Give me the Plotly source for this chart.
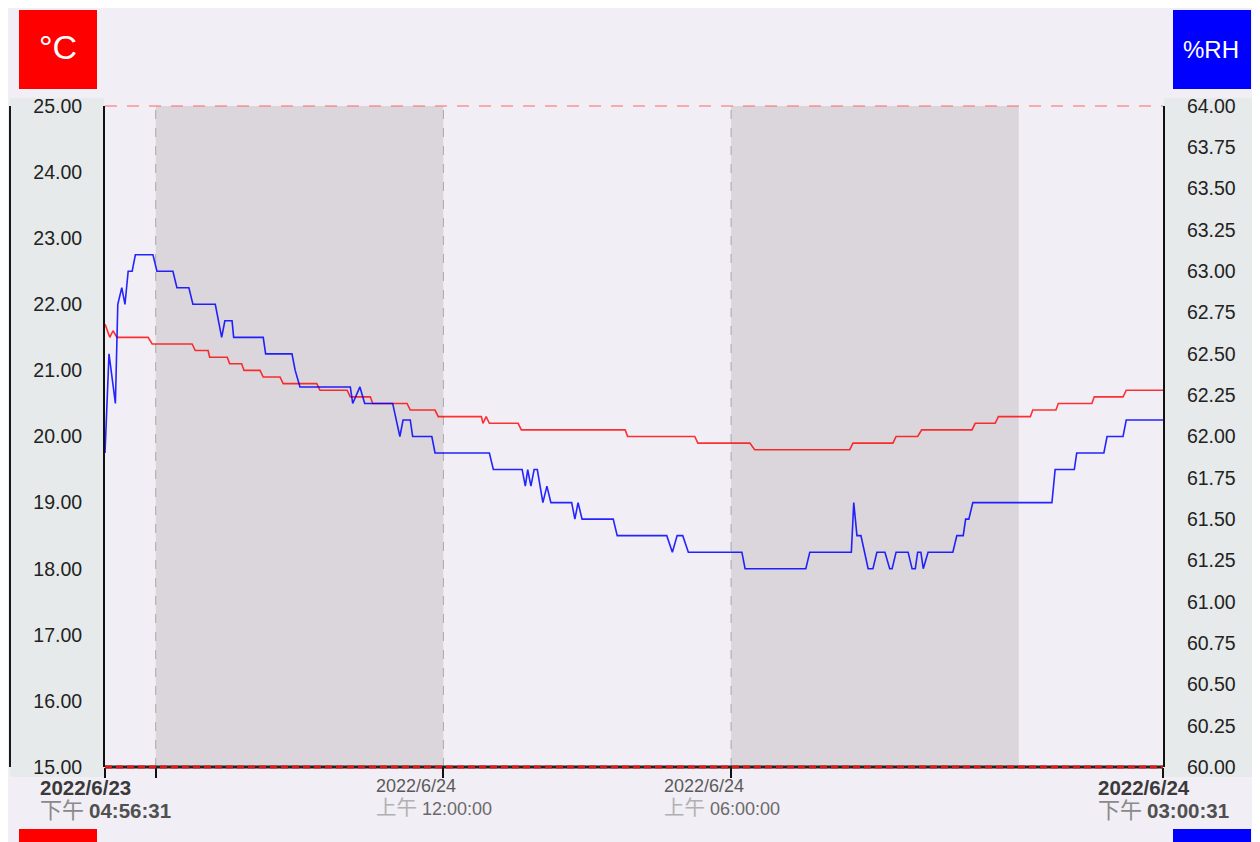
import pandas as pd
import plotly.graph_objects as go

# ---------------- data ----------------
start_time = "2022-06-23 16:56:31"
end_time = "2022-06-24 15:00:31"

# elapsed minutes since start, temperature (°C)
temp_minutes = [0, 6, 10, 15, 54, 59, 109, 113, 129, 131, 153, 156, 171, 174, 194, 198,
                219, 223, 265, 269, 303, 307, 332, 335, 378, 382, 413, 417, 471, 473,
                477, 481, 517, 521, 651, 654, 738, 742, 807, 813, 932, 936, 986, 990,
                1017, 1022, 1085, 1089, 1114, 1118, 1158, 1161, 1190, 1193, 1235, 1238,
                1274, 1278, 1324]
temp_values = [21.7, 21.5, 21.6, 21.5, 21.5, 21.4, 21.4, 21.3, 21.3, 21.2, 21.2, 21.1,
               21.1, 21.0, 21.0, 20.9, 20.9, 20.8, 20.8, 20.7, 20.7, 20.6, 20.6, 20.5,
               20.5, 20.4, 20.4, 20.3, 20.3, 20.2, 20.3, 20.2, 20.2, 20.1, 20.1, 20.0,
               20.0, 19.9, 19.9, 19.8, 19.8, 19.9, 19.9, 20.0, 20.0, 20.1, 20.1, 20.2,
               20.2, 20.3, 20.3, 20.4, 20.4, 20.5, 20.5, 20.6, 20.6, 20.7, 20.7]

# elapsed minutes since start, relative humidity (%RH)
rh_minutes = [0, 5, 13, 16, 21, 25, 29, 34, 38, 60, 65, 85, 90, 105, 110, 138, 146, 150,
              159, 161, 198, 201, 234, 238, 244, 307, 310, 319, 325, 360, 369, 373, 382,
              385, 409, 413, 481, 486, 522, 526, 529, 533, 537, 541, 548, 553, 558, 584,
              588, 592, 597, 636, 641, 703, 710, 716, 723, 730, 797, 801, 877, 882, 934,
              937, 941, 946, 955, 961, 966, 976, 982, 985, 990, 1005, 1010, 1014, 1017,
              1021, 1024, 1030, 1061, 1066, 1074, 1077, 1081, 1086, 1185, 1189, 1213,
              1216, 1250, 1254, 1274, 1278, 1324]
rh_values = [61.9, 62.5, 62.2, 62.8, 62.9, 62.8, 63.0, 63.0, 63.1, 63.1, 63.0, 63.0, 62.9,
             62.9, 62.8, 62.8, 62.6, 62.7, 62.7, 62.6, 62.6, 62.5, 62.5, 62.4, 62.3, 62.3,
             62.2, 62.3, 62.2, 62.2, 62.0, 62.1, 62.1, 62.0, 62.0, 61.9, 61.9, 61.8, 61.8,
             61.7, 61.8, 61.7, 61.8, 61.8, 61.6, 61.7, 61.6, 61.6, 61.5, 61.6, 61.5, 61.5,
             61.4, 61.4, 61.3, 61.4, 61.4, 61.3, 61.3, 61.2, 61.2, 61.3, 61.3, 61.6, 61.4,
             61.4, 61.2, 61.2, 61.3, 61.3, 61.2, 61.2, 61.3, 61.3, 61.2, 61.2, 61.3, 61.3,
             61.2, 61.3, 61.3, 61.4, 61.4, 61.5, 61.5, 61.6, 61.6, 61.8, 61.8, 61.9, 61.9,
             62.0, 62.0, 62.1, 62.1]

temp_range = [15, 25]
rh_range = [60, 64]

x_tick_times = ["2022-06-23 16:56:31", "2022-06-23 18:00:00", "2022-06-24 00:00:00",
                "2022-06-24 06:00:00", "2022-06-24 15:00:31"]
x_tick_dates = ["2022/6/23", "", "2022/6/24", "2022/6/24", "2022/6/24"]
x_tick_ampm = ["下午", "", "上午", "上午", "下午"]
x_tick_clock = ["04:56:31", "", "12:00:00", "06:00:00", "03:00:31"]
x_tick_emph = [True, False, False, False, True]

night_bands = [("2022-06-23 18:00:00", "2022-06-24 00:00:00"),
               ("2022-06-24 06:00:00", "2022-06-24 12:00:00")]
grid_times = ["2022-06-23 18:00:00", "2022-06-24 00:00:00", "2022-06-24 06:00:00"]

# ---------------- build ----------------
t0 = pd.Timestamp(start_time)
temp_x = t0 + pd.to_timedelta(temp_minutes, unit="min")
rh_x = t0 + pd.to_timedelta(rh_minutes, unit="min")

W, H = 1260, 842
OFF = 8  # page body margin
L, R, T, B = 105, 1163, 106, 767   # plot area in screen pixels
BG = "#f2eef5"
FONT = "Arial, 'Liberation Sans', 'Noto Sans CJK TC', sans-serif"


def px(X):
    return (X - L) / (R - L)


def py(Y):
    return (B - Y) / (B - T)


fig = go.Figure()
fig.add_trace(go.Scatter(x=temp_x, y=temp_values, mode="lines", yaxis="y",
                         line=dict(color="rgba(255,0,0,0.8)", width=1.6),
                         hoverinfo="skip", showlegend=False))
fig.add_trace(go.Scatter(x=rh_x, y=rh_values, mode="lines", yaxis="y2",
                         line=dict(color="rgba(0,0,255,0.85)", width=1.6),
                         hoverinfo="skip", showlegend=False))

shapes = []
for a, b in night_bands:
    shapes.append(dict(type="rect", xref="x", yref="paper", x0=a, x1=b, y0=0, y1=1,
                       fillcolor="#dbd6db", line=dict(width=0), layer="below"))
for g in grid_times:
    shapes.append(dict(type="line", xref="x", yref="paper", x0=g, x1=g, y0=0, y1=1,
                       line=dict(color="#a8a8a8", width=1, dash="dash"), layer="below"))
for x0, x1 in [(10, 104), (1164, 1258)]:
    shapes.append(dict(type="rect", xref="paper", yref="paper", x0=px(x0), x1=px(x1),
                       y0=py(777), y1=py(98), fillcolor="#e6eaea", line=dict(width=0),
                       layer="below"))
for xx in [10, 1258]:
    shapes.append(dict(type="line", xref="paper", yref="paper", x0=px(xx), x1=px(xx),
                       y0=py(767), y1=py(106), line=dict(color="#1a1a1a", width=2)))
# top limit (pink dashed)
shapes.append(dict(type="line", xref="paper", yref="paper", x0=0, x1=1, y0=1, y1=1,
                   line=dict(color="rgba(255,90,90,0.6)", width=1.3, dash="12px,10px")))
# bottom axis: black line with red dashes over it
shapes.append(dict(type="line", xref="paper", yref="paper", x0=0, x1=1, y0=0, y1=0,
                   line=dict(color="#222222", width=3)))
shapes.append(dict(type="line", xref="paper", yref="paper", x0=0, x1=1, y0=0, y1=0,
                   line=dict(color="#e01818", width=3, dash="7px,4px")))
for (x0, x1, y0, y1, col) in [(19, 97, 10, 89, "#ff0000"), (1173, 1251, 10, 89, "#0000ff"),
                              (19, 97, 829, 880, "#ff0000"), (1173, 1251, 829, 880, "#0000ff")]:
    shapes.append(dict(type="rect", xref="paper", yref="paper", x0=px(x0), x1=px(x1),
                       y0=py(y1), y1=py(y0), fillcolor=col, line=dict(width=0)))

annotations = [
    dict(text="°C", xref="paper", yref="paper", x=px(58), y=py(47), showarrow=False,
         font=dict(family=FONT, size=34, color="white"), xanchor="center", yanchor="middle"),
    dict(text="%RH", xref="paper", yref="paper", x=px(1211), y=py(49), showarrow=False,
         font=dict(family=FONT, size=24, color="white"), xanchor="center", yanchor="middle"),
]

# x tick labels (two-line, left-aligned blocks)
for tt, d, a, c, e in zip(x_tick_times, x_tick_dates, x_tick_ampm, x_tick_clock, x_tick_emph):
    if not d:
        continue
    if e:
        txt = (f"<b><span style='color:#3a3a3a;font-size:20.5px'>{d}</span></b><br>"
               f"<span style='color:#8a8a8a;font-size:22px'>{a}</span> "
               f"<b><span style='color:#505050;font-size:20.5px'>{c}</span></b>")
        annotations.append(dict(text=txt, xref="x", yref="paper", x=tt, y=py(775),
                                xanchor="center", yanchor="top", align="left",
                                showarrow=False, font=dict(family=FONT, size=18),
                                borderpad=0))
    else:
        txt = (f"<span style='color:#5a5a5a'>{d}</span><br>"
               f"<span style='color:#b0b0b0;font-size:20.5px'>{a}</span> "
               f"<span style='color:#6a6a6a'>{c}</span>")
        annotations.append(dict(text=txt, xref="x", yref="paper", x=tt, y=py(775),
                                xanchor="left", xshift=-68, yanchor="top", align="left",
                                showarrow=False, font=dict(family=FONT, size=18),
                                borderpad=0))

fig.update_layout(
    width=W, height=H, autosize=False,
    margin=dict(l=L - OFF, r=W - (R - OFF), t=T - OFF, b=H - (B - OFF), pad=0),
    paper_bgcolor=BG, plot_bgcolor=BG,
    font=dict(family=FONT, size=18, color="#222"),
    shapes=shapes, annotations=annotations,
    xaxis=dict(type="date", range=[start_time, end_time], tickvals=x_tick_times,
               ticktext=[""] * len(x_tick_times), ticks="outside", ticklen=10, tickwidth=2,
               tickcolor="#111", showgrid=False, zeroline=False, showline=False,
               automargin=False),
    yaxis=dict(range=temp_range, dtick=1, tick0=15, tickformat=".2f", side="left",
               showgrid=False, zeroline=False, showline=True, linecolor="#111",
               linewidth=2, ticks="", ticklabelstandoff=17, automargin=False,
               tickfont=dict(size=19.5, color="#222", family=FONT)),
    yaxis2=dict(range=rh_range, dtick=0.25, tick0=60, tickformat=".2f", side="right",
                overlaying="y", showgrid=False, zeroline=False, showline=True,
                linecolor="#111", linewidth=2, ticks="", ticklabelstandoff=18,
                automargin=False, tickfont=dict(size=19.5, color="#222", family=FONT)),
)

fig.write_html("out.html")
